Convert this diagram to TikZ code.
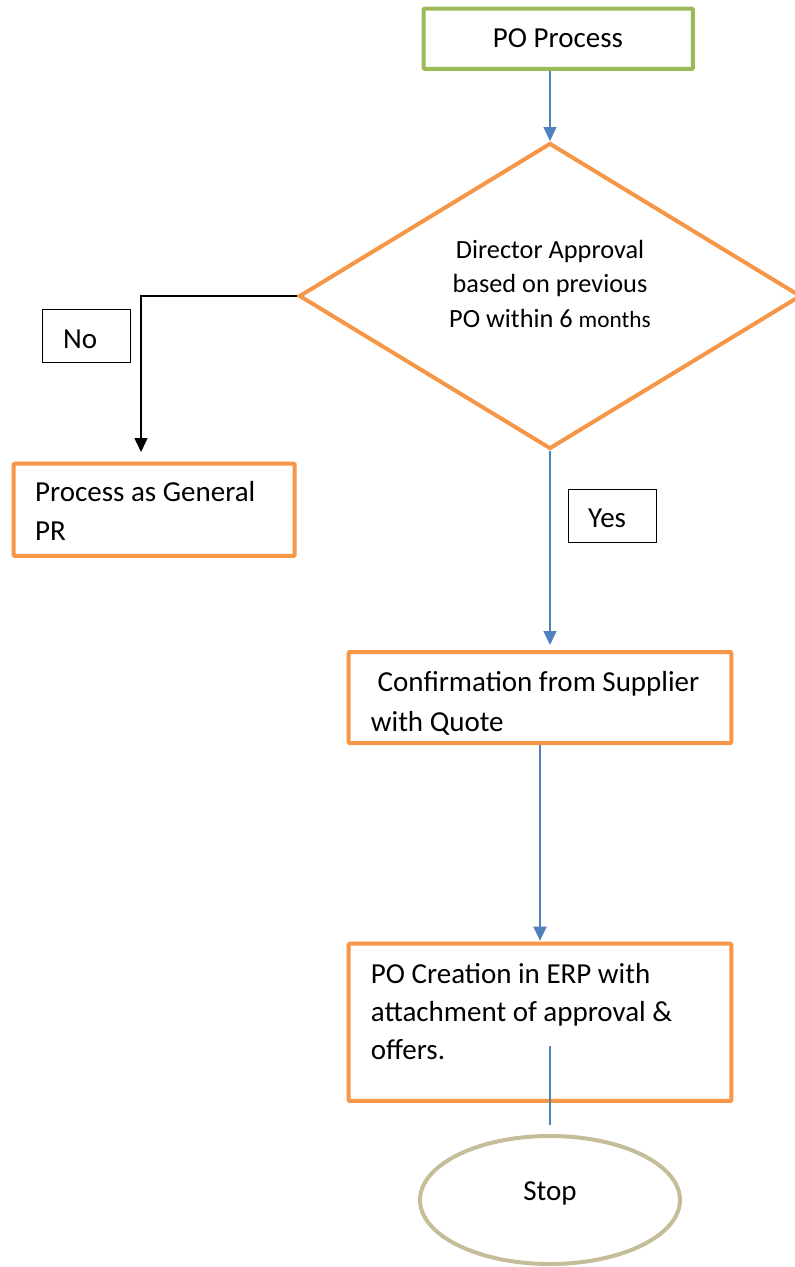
\documentclass[tikz,border=0pt]{standalone}
\usepackage{fontspec}
\setmainfont{Carlito}
\usetikzlibrary{shapes.geometric,arrows.meta,calc}
\definecolor{borange}{HTML}{F79646}
\definecolor{bgreen}{HTML}{9BBB59}
\definecolor{bblue}{HTML}{4F81BD}
\definecolor{btan}{HTML}{C4BD97}
\tikzset{
  obox/.style={draw=borange,line width=4pt,rectangle,inner sep=0pt,rounded corners=1pt},
  gbox/.style={draw=bgreen,line width=4pt,rectangle,inner sep=0pt,rounded corners=1pt},
  lblbox/.style={draw=black,line width=1pt,rectangle,inner sep=0pt},
  txt/.style={inner sep=0pt,font=\fontsize{29}{38.3}\selectfont},
  dtxt/.style={inner sep=0pt,font=\fontsize{26.3}{34.5}\selectfont},
  barrow/.style={draw=bblue,line width=1.5pt,-{Triangle[width=13pt,length=14pt]}},
  bline/.style={draw=bblue,line width=1.5pt},
  karrow/.style={draw=black,line width=1.5pt,-{Triangle[width=13pt,length=14pt]}},
}
\begin{document}
\begin{tikzpicture}[x=1pt,y=-1pt]
\useasboundingbox (0,0) rectangle (795,1267);
\fill[white] (0,0) rectangle (795,1267);
\begin{scope}
\clip (0,0) rectangle (795,1267);
% shapes
\node[gbox,minimum width=269.3pt,minimum height=60.3pt] (start) at (558.3,38.8) {};
\node[diamond,draw=borange,line width=4pt,inner sep=0pt,minimum width=502pt,minimum height=306pt] (dec) at (550,296) {};
\node[obox,minimum width=281pt,minimum height=92.3pt] (gen) at (154.2,509.8) {};
\node[obox,minimum width=382.6pt,minimum height=91pt] (conf) at (540,697.5) {};
\node[obox,minimum width=382.6pt,minimum height=157.3pt] (erp) at (540,1022.3) {};
\node[ellipse,draw=btan,line width=4pt,inner sep=0pt,minimum width=260pt,minimum height=128pt] (stop) at (550,1200) {};
\node[lblbox,minimum width=88pt,minimum height=53pt] (nobox) at (86.2,336) {};
\node[lblbox,minimum width=88pt,minimum height=53pt] (yesbox) at (612.5,516) {};
% texts
\node[txt,anchor=base] (tstart) at (558,47.7) {PO Process};
\node[dtxt,anchor=base] (td1) at (550,258) {Director Approval};
\node[dtxt,anchor=base] (td2) at (550,292.5) {based on previous};
\node[dtxt,anchor=base] (td3) at (550,327) {PO within 6 {\fontsize{23.3}{30}\selectfont months}};
\node[txt,anchor=base west] (tno) at (63,348) {No};
\node[txt,anchor=base west] (tyes) at (588,527.7) {Yes};
\node[txt,anchor=base west] (tgen) at (35,501.7) {\begin{tabular}[t]{@{}l@{}}Process as General\\PR\end{tabular}};
\node[txt,anchor=base west] (tconf1) at (377.5,691.5) {Confirmation from Supplier};
\node[txt,anchor=base west] (tconf2) at (370.7,731) {with Quote};
\node[txt,anchor=base west] (terp) at (370.7,983) {\begin{tabular}[t]{@{}l@{}}PO Creation in ERP with\\attachment of approval \&\\offers.\end{tabular}};
\node[txt,anchor=base] (tstop) at (550,1200) {Stop};
% connectors
\coordinate (notip) at (141,452);
\coordinate (erpin) at (550,1046);
\draw[barrow] (dec.north |- start.south) -- (dec.north);
\draw[karrow] (dec.west) -| (notip);
\draw[barrow] (dec.south) -- ($(dec.south |- conf.north)+(0,-5)$);
\draw[barrow] (conf.south) -- ($(conf.south |- erp.north)+(0,-1)$);
\draw[bline,shorten >=9pt] (erpin) -- (stop.north);
\end{scope}
\end{tikzpicture}
\end{document}
